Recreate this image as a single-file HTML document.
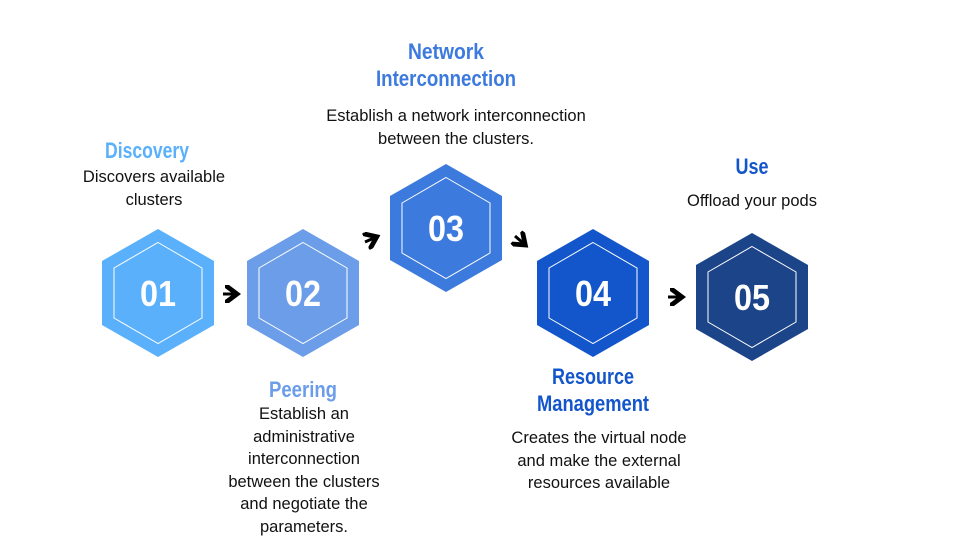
<!DOCTYPE html>
<html><head><meta charset="utf-8"><style>
body{margin:0;background:#fff;}
svg{display:block}
.t{font-family:"Liberation Sans Narrow","Liberation Sans",sans-serif;font-weight:bold;font-size:22px;text-anchor:middle}
.b{font-family:"Liberation Sans",sans-serif;font-size:16.5px;text-anchor:middle;fill:#111}
.n{font-family:"Liberation Sans Narrow","Liberation Sans",sans-serif;font-weight:bold;font-size:36px;fill:#fff;text-anchor:middle}
</style></head><body>
<svg width="960" height="540" viewBox="0 0 960 540">
<defs>
<g id="hx"><polygon points="0,-64 56,-32 56,32 0,64 -56,32 -56,-32"/><polygon points="0,-50.5 44,-25 44,25 0,50.5 -44,25 -44,-25" fill="none" stroke="#fff" stroke-width="1"/></g>
<marker id="a" markerWidth="6" markerHeight="6" refX="3" refY="3" orient="auto"><path d="M0,0 L4,3 L0,6" fill="none" stroke="#000" stroke-width="1.6"/></marker>
</defs>
<use href="#hx" x="158" y="293" fill="#5ab0fb"/>
<use href="#hx" x="303" y="293" fill="#6b9de9"/>
<use href="#hx" x="446" y="228" fill="#3d7ade"/>
<use href="#hx" x="593" y="293" fill="#1356cb"/>
<use href="#hx" x="752" y="297" fill="#1c4489"/>
<text class="n" x="158" y="306" textLength="36" lengthAdjust="spacingAndGlyphs">01</text>
<text class="n" x="303" y="306" textLength="36" lengthAdjust="spacingAndGlyphs">02</text>
<text class="n" x="446" y="241" textLength="36" lengthAdjust="spacingAndGlyphs">03</text>
<text class="n" x="593" y="306" textLength="36" lengthAdjust="spacingAndGlyphs">04</text>
<text class="n" x="752" y="310" textLength="36" lengthAdjust="spacingAndGlyphs">05</text>
<g stroke="#000" stroke-width="3" marker-end="url(#a)">
<line x1="223" y1="294" x2="234" y2="294"/>
<line x1="365" y1="242" x2="374" y2="238"/>
<line x1="515" y1="236" x2="523" y2="243"/>
<line x1="668" y1="297" x2="679" y2="297"/>
</g>
<text class="t" x="147" y="158" fill="#5ab0fb" textLength="84" lengthAdjust="spacingAndGlyphs">Discovery</text>
<text class="b" x="154" y="182">Discovers available</text>
<text class="b" x="154" y="205">clusters</text>
<text class="t" x="446" y="59" fill="#3d7ade" textLength="76" lengthAdjust="spacingAndGlyphs">Network</text>
<text class="t" x="446" y="86" fill="#3d7ade" textLength="140" lengthAdjust="spacingAndGlyphs">Interconnection</text>
<text class="b" x="456" y="121">Establish a network interconnection</text>
<text class="b" x="456" y="144">between the clusters.</text>
<text class="t" x="752" y="174" fill="#1356cb" textLength="33" lengthAdjust="spacingAndGlyphs">Use</text>
<text class="b" x="752" y="206">Offload your pods</text>
<text class="t" x="303" y="397" fill="#6b9de9" textLength="68" lengthAdjust="spacingAndGlyphs">Peering</text>
<text class="b" x="304" y="419">Establish an</text>
<text class="b" x="304" y="442">administrative</text>
<text class="b" x="304" y="464">interconnection</text>
<text class="b" x="304" y="487">between the clusters</text>
<text class="b" x="304" y="509">and negotiate the</text>
<text class="b" x="304" y="532">parameters.</text>
<text class="t" x="593" y="384" fill="#1356cb" textLength="82" lengthAdjust="spacingAndGlyphs">Resource</text>
<text class="t" x="593" y="411" fill="#1356cb" textLength="112" lengthAdjust="spacingAndGlyphs">Management</text>
<text class="b" x="599" y="443">Creates the virtual node</text>
<text class="b" x="599" y="466">and make the external</text>
<text class="b" x="599" y="488">resources available</text>
</svg>
</body></html>
